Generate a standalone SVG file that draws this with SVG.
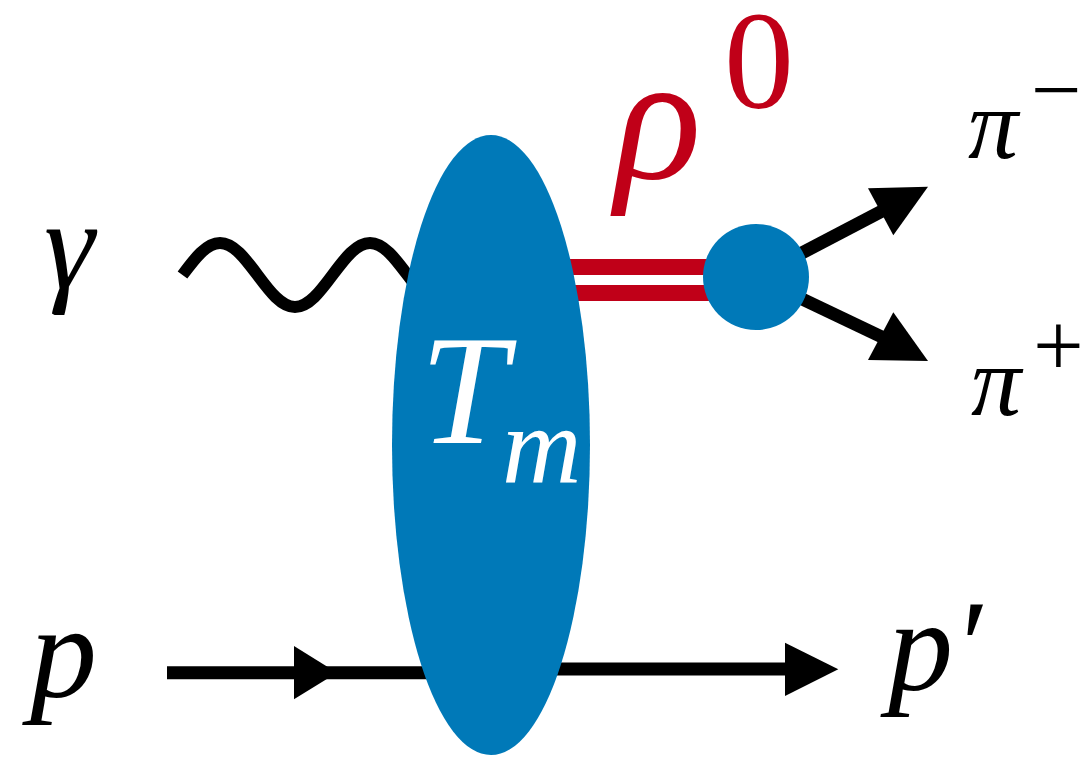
<svg xmlns="http://www.w3.org/2000/svg" width="1086" height="760" viewBox="0 0 1086 760">
<rect width="1086" height="760" fill="#fff"/>
<g id="connectors">
<path stroke="#000" stroke-width="12" fill="none" d="M182.5,275 C194.7,258.6 206.4,243 220,243 C233.6,243 245.3,258.6 257.5,275 C269.7,291.4 281.4,307 295,307 C308.6,307 320.3,291.4 332.5,275 C344.7,258.6 356.4,243 370,243 C383.6,243 395.3,258.6 407.5,275 C419.7,291.4 431.4,307 445,307"/>
<g stroke="#C00018" stroke-width="16">
<line x1="560" y1="267" x2="730" y2="267"/>
<line x1="560" y1="293" x2="730" y2="293"/>
</g>
<g stroke="#000" stroke-width="13">
<line x1="167" y1="672.7" x2="440" y2="672.7"/>
<line x1="540" y1="669" x2="790" y2="669"/>
<line x1="756" y1="277" x2="884" y2="210"/>
<line x1="756" y1="277" x2="884" y2="338"/>
</g>
<g fill="#000">
<polygon points="294,646 337,672.7 294,699.3"/>
<polygon points="785,642.7 838.3,669.3 785,696"/>
<polygon points="928,186.7 868,188.3 893.3,235.3"/>
<polygon points="928,361 868,360 893.3,312.3"/>
</g>
</g>
<g id="node-Tm">
<ellipse fill="#0079B8" cx="491" cy="445" rx="99" ry="310"/>
<text fill="#fff" style="font-family:'Liberation Serif',serif !important;font-style:italic !important" x="420" y="443" font-size="157">T</text>
<text fill="#fff" style="font-family:'Liberation Serif',serif !important;font-style:italic !important" x="502" y="483" font-size="110">m</text>
</g>
<g id="node-decay">
<circle fill="#0079B8" cx="756" cy="277" r="53"/>
</g>
<text id="label-gamma" fill="#000" style="font-family:'Liberation Serif',serif !important;font-style:italic !important" x="44" y="288" font-size="128">γ</text>
<text id="label-p" fill="#000" style="font-family:'Liberation Serif',serif !important;font-style:italic !important" x="30" y="697" font-size="134">p</text>
<text id="label-pprime" fill="#000" style="font-family:'Liberation Serif',serif !important;font-style:italic !important" x="888" y="689" font-size="130">p′</text>
<g id="label-rho" fill="#C00018">
<text style="font-family:'Liberation Serif',serif !important;font-style:italic !important" x="615" y="178" font-size="180">ρ</text>
<text style="font-family:'Liberation Serif',serif !important" x="724" y="108" font-size="140">0</text>
</g>
<g id="label-piminus" fill="#000">
<text style="font-family:'Liberation Serif',serif !important;font-style:italic !important" x="968" y="158" font-size="100">π</text>
<text style="font-family:'Liberation Serif',serif !important" x="1031" y="120" font-size="90">−</text>
</g>
<g id="label-piplus" fill="#000">
<text style="font-family:'Liberation Serif',serif !important;font-style:italic !important" x="971" y="415" font-size="100">π</text>
<text style="font-family:'Liberation Serif',serif !important" x="1033" y="376" font-size="90">+</text>
</g>
</svg>
